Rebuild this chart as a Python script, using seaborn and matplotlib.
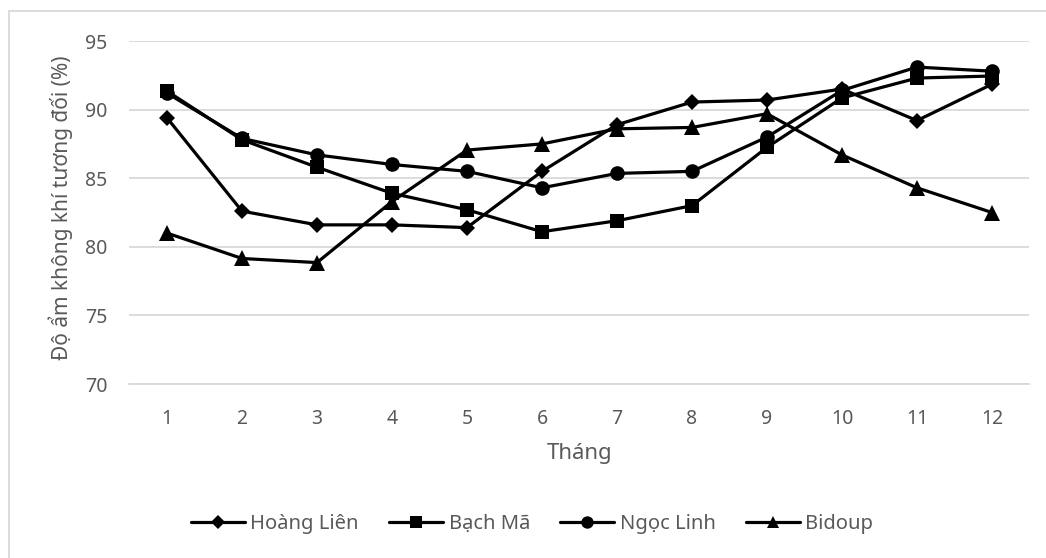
import matplotlib
matplotlib.use("Agg")
import matplotlib.pyplot as plt
import matplotlib.patches as mpatches
import seaborn as sns
import pandas as pd

# Monthly relative humidity (%) at four highland stations
months = [1, 2, 3, 4, 5, 6, 7, 8, 9, 10, 11, 12]
hoang_lien = [89.4, 82.6, 81.6, 81.6, 81.4, 85.5, 88.9, 90.55, 90.7, 91.5, 89.2, 91.85]
bach_ma = [91.35, 87.8, 85.8, 83.9, 82.7, 81.1, 81.9, 83.0, 87.25, 90.85, 92.3, 92.45]
ngoc_linh = [91.2, 87.9, 86.7, 86.0, 85.5, 84.3, 85.35, 85.5, 88.0, 91.4, 93.1, 92.8]
bidoup = [81.0, 79.15, 78.85, 83.3, 87.05, 87.5, 88.6, 88.7, 89.7, 86.7, 84.3, 82.5]

series_names = ["Hoàng Liên", "Bạch Mã", "Ngọc Linh", "Bidoup"]
series_values = [hoang_lien, bach_ma, ngoc_linh, bidoup]
marker_shapes = {"Hoàng Liên": "D", "Bạch Mã": "s", "Ngọc Linh": "o", "Bidoup": "^"}
marker_sizes = {"Hoàng Liên": 8.5, "Bạch Mã": 10, "Ngọc Linh": 10.5, "Bidoup": 11}

y_ticks = [70, 75, 80, 85, 90, 95]

df = pd.DataFrame(
    [(m, v, name) for name, vals in zip(series_names, series_values) for m, v in zip(months, vals)],
    columns=["Tháng", "value", "site"],
)

sns.set_theme(style="white")
plt.rcParams["font.family"] = ["Noto Sans", "DejaVu Sans"]

TEXT = "#595959"
GRID = "#d9d9d9"
LW = 2.3

fig = plt.figure(figsize=(10.46, 5.58), dpi=100)
ax = fig.add_axes([0.1238, 0.3118, 0.8604, 0.6147])

sns.lineplot(
    data=df, x="Tháng", y="value", style="site", style_order=series_names,
    markers=marker_shapes, dashes=False, color="black", linewidth=LW,
    ax=ax, legend=False,
)
for line, name in zip(ax.lines, series_names):
    line.set_markersize(marker_sizes[name])
    line.set_markeredgewidth(0)
    line.set_markerfacecolor("black")

ax.set_xlim(0.5, 12.5)
ax.set_ylim(70, 95)
ax.set_xticks(months)
ax.set_yticks(y_ticks)
ax.yaxis.grid(True, color=GRID, linewidth=1.3)
ax.set_axisbelow(True)
for side in ["top", "right", "left"]:
    ax.spines[side].set_visible(False)
ax.spines["bottom"].set_color(GRID)
ax.spines["bottom"].set_linewidth(1.3)
ax.tick_params(axis="both", length=0, labelsize=14, labelcolor=TEXT)
ax.tick_params(axis="y", pad=16)
ax.tick_params(axis="x", pad=18)

ax.set_xlabel("Tháng", fontsize=16, color=TEXT)
ax.xaxis.set_label_coords(0.5, (384 - 443) / 343)
ax.set_ylabel("Độ ẩm không khí tương đối (%)", fontsize=15, color=TEXT)
ax.yaxis.set_label_coords((73 - 129.5) / 900, (384 - 207.5) / 343)

# Legend with line + marker handles
handles = [
    plt.Line2D([], [], color="black", linewidth=LW, marker=marker_shapes[n],
               markersize=marker_sizes[n] * 0.85, markeredgewidth=0)
    for n in series_names
]
leg = fig.legend(handles, series_names, loc="center",
                 bbox_to_anchor=(532 / 1046, 1 - 524 / 558),
                 ncol=4, frameon=False, fontsize=14.5, handlelength=2.7,
                 columnspacing=1.5, handletextpad=0.25)
for t in leg.get_texts():
    t.set_color(TEXT)

# Chart area border
fig.patches.append(mpatches.Rectangle((9 / 1046, -0.1), 1.2, 1 - 11 / 558 + 0.1,
                                      transform=fig.transFigure, fill=False,
                                      edgecolor=GRID, linewidth=1.3))

fig.savefig("out.png", dpi=100)
